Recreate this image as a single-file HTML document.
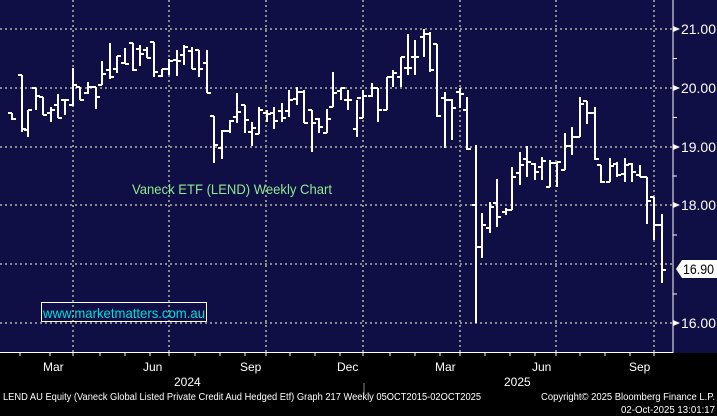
<!DOCTYPE html>
<html><head><meta charset="utf-8"><style>
html,body{margin:0;padding:0;background:#000;width:717px;height:416px;overflow:hidden}
svg{display:block}
text{font-family:"Liberation Sans",sans-serif}
</style></head><body>
<svg id="s" width="717" height="416" xmlns="http://www.w3.org/2000/svg">
<rect x="0" y="0" width="717" height="416" fill="#000"/>
<rect x="0" y="0" width="717" height="353" fill="#0f0e45"/>
<g id="grid" stroke="#8a8a8a" stroke-width="2" stroke-dasharray="2,3"></g>
<g id="bars" stroke="#fff" stroke-width="2" fill="none"></g>
<line x1="673" y1="0" x2="673" y2="353" stroke="#fff" stroke-width="1"/>
<line x1="0" y1="352.5" x2="673" y2="352.5" stroke="#fff" stroke-width="1"/>
<g id="axis" fill="#fff" font-size="14"></g>
<text x="132" y="194" fill="#8fe98f" font-size="14" textLength="200" lengthAdjust="spacingAndGlyphs">Vaneck ETF (LEND) Weekly Chart</text>
<rect x="41.5" y="302.5" width="165" height="19" fill="none" stroke="#fff" stroke-width="1"/>
<text x="43" y="318" fill="#00dede" font-size="14" textLength="162" lengthAdjust="spacingAndGlyphs">www.marketmatters.com.au</text>
<path d="M676,269 L682,260 L717,260 L717,278 L682,278 Z" fill="#fff"/>
<text x="683" y="274" fill="#000" font-size="14" textLength="31" lengthAdjust="spacingAndGlyphs">16.90</text>
<g fill="#fff" font-size="12" font-family="Liberation Sans Narrow,Liberation Sans,sans-serif">
<text x="43" y="371">Mar</text><text x="143" y="371">Jun</text><text x="240" y="371">Sep</text><text x="337" y="371">Dec</text>
<text x="435" y="371">Mar</text><text x="532" y="371">Jun</text><text x="629" y="371">Sep</text>
<text x="174" y="386">2024</text><text x="504" y="386">2025</text>
</g>
<line x1="364" y1="383" x2="364" y2="395" stroke="#888"/>
<text x="3" y="400" fill="#fff" font-size="10" textLength="478" lengthAdjust="spacingAndGlyphs">LEND AU Equity (Vaneck Global Listed Private Credit Aud Hedged Etf) Graph 217 Weekly 05OCT2015-02OCT2025</text>
<text x="541" y="400" fill="#fff" font-size="10" textLength="174" lengthAdjust="spacingAndGlyphs">Copyright© 2025 Bloomberg Finance L.P.</text>
<text x="621" y="413" fill="#fff" font-size="10" textLength="94" lengthAdjust="spacingAndGlyphs">02-Oct-2025 13:01:17</text>
</svg>
<script>
var ns="http://www.w3.org/2000/svg";
function L(g,x1,y1,x2,y2){var l=document.createElementNS(ns,"line");l.setAttribute("x1",x1);l.setAttribute("y1",y1);l.setAttribute("x2",x2);l.setAttribute("y2",y2);document.getElementById(g).appendChild(l);}
[29,88,147,205,264,323].forEach(function(y){L("grid",0,y,673,y);});
[73,169,266,363,460,556,654].forEach(function(x){L("grid",x,0,x,352);});
var B=[[12,113,120,113,119],[22,75,132,75,129],[28,110,137,130,110],[36,88,110,88,96],[43,97,115,97,115],[51,107,122,113,110],[58,94,118,105,118],[65,99,115,100,100],[73,68,106,105,85],[80,87,100,87,100],[88,82,94,93,87],[96,87,109,87,97],[102,61,85,85,74],[110,43,79,70,77],[117,56,73,69,56],[125,48,64,63,64],[133,43,71,43,70],[140,45,66,49,54],[147,47,58,50,58],[154,42,77,42,72],[162,69,77,76,69],[169,59,75,69,61],[177,50,76,60,61],[184,45,65,55,47],[192,47,69,51,69],[199,50,77,50,69],[207,50,93,63,93],[214,116,163,116,145],[222,130,159,148,131],[230,120,133,131,121],[237,93,123,117,112],[245,105,133,105,120],[252,122,146,132,128],[259,107,134,134,110],[267,110,122,113,114],[274,107,129,113,121],[282,103,122,111,118],[289,90,117,111,100],[297,87,105,99,92],[304,90,123,92,123],[312,110,152,110,123],[319,118,133,119,127],[327,109,133,133,119],[333,72,107,107,93],[341,88,100,91,88],[348,90,110,100,100],[357,100,137,129,98],[363,90,118,118,96],[372,83,97,96,88],[378,88,122,88,110],[387,77,110,110,77],[393,70,87,77,73],[401,57,87,77,57],[408,34,75,68,68],[415,40,75,57,57],[424,29,57,37,34],[430,32,72,34,70],[437,44,117,44,116],[445,92,148,98,100],[452,99,140,100,108],[460,88,108,92,94],[467,97,150,110,149],[476,145,323,205,247],[482,213,258,247,225],[490,202,233,228,207],[497,179,227,203,217],[506,208,215,212,210],[512,167,210,210,177],[520,152,185,173,165],[527,146,177,159,162],[535,163,180,164,172],[542,157,180,167,161],[550,160,187,187,163],[557,162,187,163,162],[565,133,170,170,146],[572,127,155,146,137],[580,97,137,137,104],[587,101,124,101,113],[595,107,160,113,159],[601,165,183,165,182],[610,158,182,182,166],[617,162,177,164,175],[625,158,182,174,165],[632,163,182,164,172],[640,165,177,175,177],[647,177,224,177,201],[654,197,240,197,225],[662,214,283,225,270]];
B.forEach(function(b){L("bars",b[0],b[1],b[0],b[2]);L("bars",b[0]-4,b[3],b[0],b[3]);L("bars",b[0],b[4],b[0]+4,b[4]);});
var ax=document.getElementById("axis");
[[21,29],[20,88],[19,147],[18,205],[16,323]].forEach(function(p){
 var t=document.createElementNS(ns,"text");t.setAttribute("x",681);t.setAttribute("y",p[1]+5);t.setAttribute("textLength",35);t.setAttribute("lengthAdjust","spacingAndGlyphs");t.textContent=p[0].toFixed(2);ax.appendChild(t);
 var a=document.createElementNS(ns,"path");a.setAttribute("d","M673,"+(p[1]-3)+" L680,"+p[1]+" L673,"+(p[1]+3)+"Z");ax.appendChild(a);});
[58.5,117.5,176,235,294].forEach(function(y){var l=document.createElementNS(ns,"line");l.setAttribute("x1",673);l.setAttribute("x2",677);l.setAttribute("y1",y);l.setAttribute("y2",y);l.setAttribute("stroke","#fff");ax.appendChild(l);});
[20,50,73,100,125,150,169,195,220,245,266,290,315,340,363,390,415,440,460,485,510,535,556,580,605,630,654].forEach(function(x){var l=document.createElementNS(ns,"line");l.setAttribute("x1",x);l.setAttribute("x2",x);l.setAttribute("y1",352);l.setAttribute("y2",356);l.setAttribute("stroke","#fff");ax.appendChild(l);});
</script>
</body></html>
